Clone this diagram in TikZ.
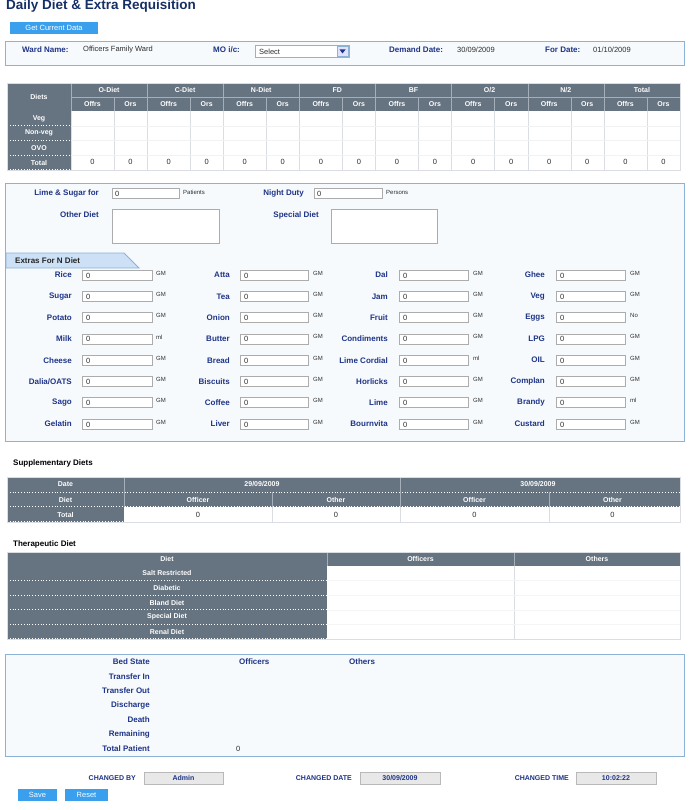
\documentclass[tikz,border=0pt]{standalone}
\usepackage{fontspec}
\setmainfont{Liberation Sans}
\usetikzlibrary{calc,positioning}

\definecolor{navy}{RGB}{30,52,135}
\definecolor{titleblue}{RGB}{22,48,102}
\definecolor{slate}{RGB}{102,115,128}
\definecolor{slateline}{RGB}{165,175,185}
\definecolor{boxline}{RGB}{140,178,214}
\definecolor{boxfill}{RGB}{247,250,253}
\definecolor{tabfill}{RGB}{204,224,246}
\definecolor{btnblue}{RGB}{58,160,238}
\definecolor{cellline}{RGB}{218,221,225}
\definecolor{valtext}{RGB}{45,45,45}

\begin{document}
\begin{tikzpicture}[x=1pt,y=-1pt,
    lbl/.style={font=\fontsize{8}{9.5}\selectfont\bfseries,text=navy,inner sep=0pt},
    small lbl/.style={font=\fontsize{7}{8.5}\selectfont\bfseries,text=navy,inner sep=0pt},
    val/.style={font=\fontsize{7.5}{9}\selectfont,text=valtext,inner sep=0pt},
    unit/.style={font=\fontsize{6}{7}\selectfont,text=valtext,inner sep=0pt},
    hd/.style={font=\fontsize{7}{8.5}\selectfont\bfseries,text=white,inner sep=0pt},
    num/.style={font=\fontsize{7.5}{9}\selectfont,text=valtext,inner sep=0pt},
    field/.style={draw=gray!65,fill=white,line width=.8pt},
    panel/.style={draw=boxline,fill=boxfill,line width=.9pt},
    btn/.style={fill=btnblue},
    btntext/.style={font=\fontsize{7.5}{9}\selectfont,text=white,inner sep=0pt},
    greybox/.style={draw=gray!55,fill=gray!18,line width=.8pt},
    sectitle/.style={font=\fontsize{8}{10}\selectfont\bfseries,inner sep=0pt,anchor=west}]

\fill[white] (0,0) rectangle (690,810);
\useasboundingbox (0,0) rectangle (690,810);

% Title and top button
\node[font=\fontsize{13.5}{15}\selectfont\bfseries,text=titleblue,inner sep=0pt,anchor=west] (title) at (6,6.5) {Daily Diet \& Extra Requisition};
\fill[btn] (10,22) rectangle (98,34);
\node[btntext] (getdata) at (54,28) {Get Current Data};

% Ward header box
\filldraw[panel] (5,41) rectangle (684,65);
\node[lbl,anchor=west] (ward) at (22,50) {Ward Name:};
\node[val,anchor=west] at (83,50) {Officers Family Ward};
\node[lbl,anchor=west] (mo) at (213,50) {MO i/c:};
\draw[field] (255,45) rectangle (349,57);
\node[val,anchor=west] at (259,51.5) {Select};
\filldraw[draw=boxline,fill=blue!12] (337,46) rectangle (348,56);
\fill[navy] (339.5,49.5) -- (345.5,49.5) -- (342.5,53.5) -- cycle;
\node[lbl,anchor=west] (demand) at (389,50) {Demand Date:};
\node[val,anchor=west] at (457,50) {30/09/2009};
\node[lbl,anchor=west] (fordate) at (545,50) {For Date:};
\node[val,anchor=west] at (593,50) {01/10/2009};

% Diet table
\fill[slate] (7,83) rectangle (680,111);
\fill[slate] (7,111) rectangle (71,170);
\fill[white] (71,111) rectangle (680,170);
\node[hd] (diets) at (39,97) {Diets};
\draw[slateline] (71,97) -- (680,97);
\foreach \g [count=\i from 0] in {O-Diet,C-Diet,N-Diet,FD,BF,O/2,N/2,Total}{
  \pgfmathsetmacro\gx{71+76.125*\i}
  \node[hd] at (\gx+38,90) {\g};
  \node[hd] at (\gx+21.5,104) {Offrs};
  \node[hd] at (\gx+59.5,104) {Ors};
  \draw[slateline] (\gx,83) -- (\gx,111);
  \draw[slateline] (\gx+43,97) -- (\gx+43,111);
  \draw[cellline] (\gx,111) -- (\gx,170);
  \draw[cellline] (\gx+43,111) -- (\gx+43,170);
  \node[num] at (\gx+21.5,162) {0};
  \node[num] at (\gx+59.5,162) {0};
}
\foreach \rl [count=\r from 0] in {Veg,Non-veg,OVO,Total}{
  \pgfmathsetmacro\ry{111+14.75*\r}
  \node[hd] at (39,\ry+7.4) {\rl};
  \draw[white,dotted,line width=.8pt] (7,\ry+14.5) -- (71,\ry+14.5);
  \draw[gray!10] (71,\ry+14.75) -- (680,\ry+14.75);
}
\draw[cellline,line width=.8pt] (7,83) rectangle (680,170);

% Lime and sugar box
\filldraw[panel] (5,183) rectangle (684,441);
\node[lbl,anchor=east] (lime) at (99,193) {Lime \& Sugar for};
\draw[field] (112,188) rectangle (179,198);
\node[val,anchor=west] at (115,193.5) {0};
\node[unit,anchor=west] at (183,192) {Patients};
\node[lbl,anchor=east] (night) at (304,193) {Night Duty};
\draw[field] (314,188) rectangle (382,198);
\node[val,anchor=west] at (317,193.5) {0};
\node[unit,anchor=west] at (386,192) {Persons};
\node[lbl,anchor=east] (other) at (99,215) {Other Diet};
\draw[field] (112,209) rectangle (219,243);
\node[lbl,anchor=east] (special) at (319,215) {Special Diet};
\draw[field] (331,209) rectangle (437,243);

% Extras For N Diet tab
\filldraw[draw=boxline,fill=tabfill,line width=.9pt] (6,253) -- (124,253) -- (139,268) -- (6,268) -- cycle;
\node[font=\fontsize{8}{9.5}\selectfont\bfseries,text=black!85,inner sep=0pt,anchor=west] (extras) at (15,260.5) {Extras For N Diet};

% Extras, column by column
\foreach \lab/\unt [count=\r from 0] in {Rice/GM,Sugar/GM,Potato/GM,Milk/ml,Cheese/GM,{Dalia/OATS}/GM,Sago/GM,Gelatin/GM}{
  \pgfmathsetmacro\ry{275+21.3*\r}
  \node[lbl,anchor=east] at (72,\ry) {\lab};
  \draw[field] (82,\ry-5) rectangle (152,\ry+5);
  \node[val,anchor=west] at (86,\ry+.5) {0};
  \node[unit,anchor=west] at (156,\ry-2) {\unt};
}
\foreach \lab/\unt [count=\r from 0] in {Atta/GM,Tea/GM,Onion/GM,Butter/GM,Bread/GM,Biscuits/GM,Coffee/GM,Liver/GM}{
  \pgfmathsetmacro\ry{275+21.3*\r}
  \node[lbl,anchor=east] at (230,\ry) {\lab};
  \draw[field] (240,\ry-5) rectangle (308,\ry+5);
  \node[val,anchor=west] at (244,\ry+.5) {0};
  \node[unit,anchor=west] at (313,\ry-2) {\unt};
}
\foreach \lab/\unt [count=\r from 0] in {Dal/GM,Jam/GM,Fruit/GM,Condiments/GM,Lime Cordial/ml,Horlicks/GM,Lime/GM,Bournvita/GM}{
  \pgfmathsetmacro\ry{275+21.3*\r}
  \node[lbl,anchor=east] at (388,\ry) {\lab};
  \draw[field] (399,\ry-5) rectangle (468,\ry+5);
  \node[val,anchor=west] at (403,\ry+.5) {0};
  \node[unit,anchor=west] at (473,\ry-2) {\unt};
}
\foreach \lab/\unt [count=\r from 0] in {Ghee/GM,Veg/GM,Eggs/No,LPG/GM,OIL/GM,Complan/GM,Brandy/ml,Custard/GM}{
  \pgfmathsetmacro\ry{275+21.3*\r}
  \node[lbl,anchor=east] at (545,\ry) {\lab};
  \draw[field] (556,\ry-5) rectangle (625,\ry+5);
  \node[val,anchor=west] at (560,\ry+.5) {0};
  \node[unit,anchor=west] at (630,\ry-2) {\unt};
}

% Supplementary diets
\node[sectitle] (supp) at (13,463) {Supplementary Diets};
\fill[slate] (7,477) rectangle (680,507);
\fill[slate] (7,507) rectangle (124,522);
\fill[white] (124,507) rectangle (680,522);
\draw[slateline] (124,477) -- (124,507) (400,477) -- (400,507) (272,492) -- (272,507) (549,492) -- (549,507);
\draw[cellline] (272,507) -- (272,522) (400,507) -- (400,522) (549,507) -- (549,522);
\draw[white,dotted,line width=.8pt] (7,492) -- (680,492) (7,506.5) -- (680,506.5) (7,521.5) -- (124,521.5);
\node[hd] at (65.5,484.5) {Date};
\node[hd] at (262,484.5) {29/09/2009};
\node[hd] at (538,484.5) {30/09/2009};
\node[hd] at (65.5,499.5) {Diet};
\foreach \cx in {198,474.5}{\node[hd] at (\cx,499.5) {Officer};}
\foreach \cx in {336,612.5}{\node[hd] at (\cx,499.5) {Other};}
\node[hd] at (65.5,514.5) {Total};
\foreach \cx in {198,336,474.5,612.5}{\node[num] at (\cx,515) {0};}
\draw[cellline,line width=.8pt] (7,477) rectangle (680,522);

% Therapeutic diet
\node[sectitle] (thera) at (13,544) {Therapeutic Diet};
\fill[slate] (7,552) rectangle (680,566);
\fill[slate] (7,566) rectangle (327,639);
\fill[white] (327,566) rectangle (680,639);
\draw[slateline] (327,552) -- (327,566) (514,552) -- (514,566);
\draw[cellline] (514,566) -- (514,639);
\node[hd] at (167,559) {Diet};
\node[hd] at (420.5,559) {Officers};
\node[hd] at (597,559) {Others};
\foreach \dl [count=\r from 0] in {Salt Restricted,Diabetic,Bland Diet,Special Diet,Renal Diet}{
  \pgfmathsetmacro\ry{566+14.6*\r}
  \node[hd] at (167,\ry+7.3) {\dl};
  \draw[white,dotted,line width=.8pt] (7,\ry+14.3) -- (327,\ry+14.3);
  \draw[gray!8] (327,\ry+14.6) -- (680,\ry+14.6);
}
\draw[cellline,line width=.8pt] (7,552) rectangle (680,639);

% Bed state box
\filldraw[panel] (5,654) rectangle (684,756);
\foreach \bl/\by in {Bed State/662,Transfer In/676.5,Transfer Out/691,Discharge/705.5,Death/720,Remaining/734.5,Total Patient/749}{
  \node[lbl,anchor=east] at (150,\by) {\bl};
}
\node[lbl,anchor=west] (officers) at (239,662) {Officers};
\node[lbl,anchor=west] (others) at (349,662) {Others};
\node[val,anchor=west] at (236,749) {0};

% Changed by / date / time
\node[small lbl,anchor=east] (chby) at (136,778) {CHANGED BY};
\draw[greybox] (144,772) rectangle (223,784);
\node[small lbl] at (183.5,778) {Admin};
\node[small lbl,anchor=east] (chdate) at (352,778) {CHANGED DATE};
\draw[greybox] (360,772) rectangle (440,784);
\node[small lbl] at (400,778) {30/09/2009};
\node[small lbl,anchor=east] (chtime) at (569,778) {CHANGED TIME};
\draw[greybox] (576,772) rectangle (656,784);
\node[small lbl] at (616,778) {10:02:22};

% Save and Reset
\fill[btn] (18,789) rectangle (57,801);
\node[btntext] (save) at (37.5,795) {Save};
\fill[btn] (65,789) rectangle (108,801);
\node[btntext] (reset) at (86.5,795) {Reset};

\end{tikzpicture}
\end{document}
